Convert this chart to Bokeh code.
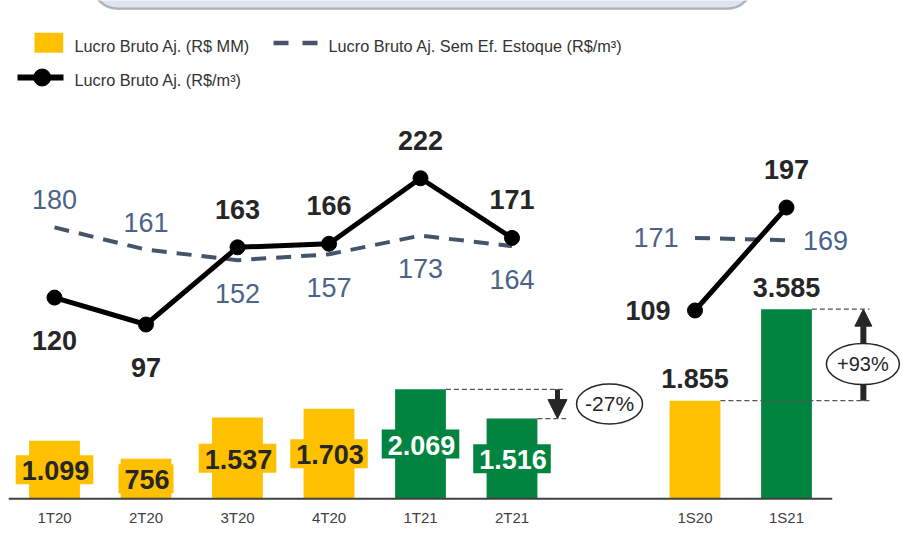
from bokeh.plotting import figure
from bokeh.models import Range1d, ColumnDataSource, Arrow, NormalHead, BoxAnnotation
from bokeh.core.properties import value
from bokeh.embed import file_html
from bokeh.resources import INLINE

# ---------------- data ----------------
quarters = ["1T20", "2T20", "3T20", "4T20", "1T21", "2T21"]
semesters = ["1S20", "1S21"]
lucro_mm_q = [1099, 756, 1537, 1703, 2069, 1516]        # Lucro Bruto Aj. (R$ MM)
lucro_mm_s = [1855, 3585]
lucro_m3_q = [120, 97, 163, 166, 222, 171]              # Lucro Bruto Aj. (R$/m3)
lucro_m3_s = [109, 197]
sem_est_q = [180, 161, 152, 157, 173, 164]              # Sem Ef. Estoque (R$/m3)
sem_est_s = [171, 169]
var_q_label = "-27%"
var_s_label = "+93%"
legend_labels = ["Lucro Bruto Aj. (R$ MM)",
                 "Lucro Bruto Aj. Sem Ef. Estoque (R$/m³)",
                 "Lucro Bruto Aj. (R$/m³)"]

# ---------------- style ----------------
YELLOW = "#FFC000"
GREEN = "#00843F"
DARK = "#262626"
SLATE = "#44546A"
SLATE_TXT = "#4A6388"
GREY_TXT = "#404040"
NUMF = "Liberation Sans"
SANS = "Liberation Sans"

W, H = 905, 535
X0, X1 = -0.5902, 9.3005
Y0, Y1 = -693.8, 9420
L0, L1 = -83.3, 373.9
BAR_W = 0.555

def sx(px):  # page px -> data x (layout helper for legend/box)
    return X0 + px / W * (X1 - X0)

def sy(py):  # page px -> data y (bar range)
    return Y1 - py / H * (Y1 - Y0)

fmt = lambda v: f"{v:,}".replace(",", ".")

xq = list(range(len(quarters)))
xs = [len(quarters) + 1 + i for i in range(len(semesters))]
bar_col_q = [YELLOW if c.endswith("20") else GREEN for c in quarters]
bar_col_s = [YELLOW if c.endswith("20") else GREEN for c in semesters]
txt_col_q = [DARK if c == YELLOW else "white" for c in bar_col_q]

p = figure(width=W, height=H, x_range=Range1d(X0, X1), y_range=Range1d(Y0, Y1),
           x_axis_type=None, y_axis_type=None, toolbar_location=None,
           output_backend="svg", min_border=0, outline_line_color=None,
           background_fill_color="white", border_fill_color="white")
p.extra_y_ranges = {"line": Range1d(L0, L1)}

# top rounded box (cut off by page top)
p.add_layout(BoxAnnotation(left=sx(92), right=sx(752), top=sy(-80), bottom=sy(8.3),
                           fill_color="#DCE4EF", fill_alpha=1.0, line_color="#2F2F2F",
                           line_width=2.5, border_radius=25, level="underlay"))

# ---------------- bars ----------------
src_q = ColumnDataSource(dict(x=xq, top=lucro_mm_q, mid=[v / 2 for v in lucro_mm_q],
                              color=bar_col_q, tcol=txt_col_q,
                              lab=[fmt(v) for v in lucro_mm_q], cat=quarters))
src_s = ColumnDataSource(dict(x=xs, top=lucro_mm_s, color=bar_col_s,
                              lab=[fmt(v) for v in lucro_mm_s], cat=semesters))
p.vbar(x="x", top="top", width=BAR_W, bottom=0, fill_color="color", line_color=None, source=src_q)
p.vbar(x="x", top="top", width=BAR_W, bottom=0, fill_color="color", line_color=None, source=src_s)

# baseline
p.segment(x0=[xq[0] - 0.5], y0=[0], x1=[xs[-1] + 0.5], y1=[0], line_color=GREY_TXT, line_width=2)

# bar labels (quarters: inside with boxed background; semesters: above)
p.text(x="x", y="mid", text="lab", source=src_q, text_font=value(NUMF),
       text_font_style="bold", text_font_size="27px", text_color="tcol",
       text_align="center", text_baseline="middle",
       background_fill_color="color", padding=(6, 4, 6, 4))
p.text(x="x", y="top", text="lab", source=src_s, text_font=value(NUMF),
       text_font_style="bold", text_font_size="27px", text_color=DARK,
       text_align="center", text_baseline="middle", y_offset=-22)

# x tick labels
for src in (src_q, src_s):
    p.text(x="x", y=0, text="cat", source=src, text_font=value(SANS),
           text_font_size="15px", text_color=GREY_TXT, text_align="center",
           text_baseline="middle", y_offset=18.7)

# ---------------- lines ----------------
OFF = {"above": (0, -38), "below": (0, 43), "left": (-47, 0)}
OFF_B = {"above": (0, -27.5), "below": (0, 33), "left": (-39, 0), "right": (39, 0)}
black_pos_q = ["below", "below", "above", "above", "above", "above"]
black_pos_s = ["left", "above"]
blue_pos_q = ["above", "above", "below", "below", "below", "below"]
blue_pos_s = ["left", "right"]

for xx, vals in ((xq, sem_est_q), (xs, sem_est_s)):
    p.line(xx, vals, y_range_name="line", line_color=SLATE, line_width=4, line_dash="15 10")
for xx, vals in ((xq, lucro_m3_q), (xs, lucro_m3_s)):
    p.line(xx, vals, y_range_name="line", line_color="black", line_width=5)
    p.scatter(xx, vals, y_range_name="line", size=15, fill_color="black", line_color="black")

for xx, vals, pos in ((xq, lucro_m3_q, black_pos_q), (xs, lucro_m3_s, black_pos_s)):
    p.text(x=xx, y=vals, text=[str(v) for v in vals], y_range_name="line",
           x_offset=[OFF[k][0] for k in pos], y_offset=[OFF[k][1] for k in pos],
           text_font=value(NUMF), text_font_style="bold", text_font_size="27px",
           text_color=DARK, text_align="center", text_baseline="middle")
for xx, vals, pos in ((xq, sem_est_q, blue_pos_q), (xs, sem_est_s, blue_pos_s)):
    p.text(x=xx, y=vals, text=[str(v) for v in vals], y_range_name="line",
           x_offset=[OFF_B[k][0] for k in pos], y_offset=[OFF_B[k][1] for k in pos],
           text_font=value(NUMF), text_font_size="27px",
           text_color=SLATE_TXT, text_align="center", text_baseline="middle")

# ---------------- variation annotations ----------------
# quarters: 1T21 -> 2T21
a_hi, a_lo = lucro_mm_q[-2], lucro_mm_q[-1]
ax = xq[-1] + 0.497
p.segment(x0=[xq[-2] + BAR_W / 2, xq[-1] + BAR_W / 2], y0=[a_hi, a_lo],
          x1=[xq[-1] + 0.59, xq[-1] + 0.59], y1=[a_hi, a_lo],
          line_color="#555555", line_width=1.2, line_dash="5 3")
p.add_layout(Arrow(end=NormalHead(size=19, fill_color=DARK, line_color=DARK),
                   x_start=ax, y_start=a_hi, x_end=ax, y_end=a_lo,
                   line_color=DARK, line_width=5, level="underlay"))
ex, ey = xq[-1] + 1.066, (a_hi + a_lo) / 2
p.ellipse(x=[ex], y=[ey], width=66, height=40, width_units="screen", height_units="screen",
          fill_color="white", line_color=DARK, line_width=1.5)
p.text(x=[ex], y=[ey], text=[var_q_label], text_font=value(SANS), text_font_size="21px",
       text_color=DARK, text_align="center", text_baseline="middle")

# semesters: 1S20 -> 1S21
b_lo, b_hi = lucro_mm_s[0], lucro_mm_s[1]
bx = xs[-1] + 0.84
p.segment(x0=[xs[-1] + BAR_W / 2, xs[0] + BAR_W / 2], y0=[b_hi, b_lo],
          x1=[xs[-1] + 0.907, xs[-1] + 0.907], y1=[b_hi, b_lo],
          line_color="#555555", line_width=1.2, line_dash="5 3")
p.add_layout(Arrow(end=NormalHead(size=17, fill_color=DARK, line_color=DARK),
                   x_start=bx, y_start=b_lo, x_end=bx, y_end=b_hi,
                   line_color=DARK, line_width=6, level="underlay"))
fx, fy = xs[-1] + 0.835, b_lo + 0.4 * (b_hi - b_lo)
p.ellipse(x=[fx], y=[fy], width=73, height=41, width_units="screen", height_units="screen",
          fill_color="white", line_color=DARK, line_width=1.5)
p.text(x=[fx], y=[fy], text=[var_s_label], text_font=value(SANS), text_font_size="20px",
       text_color=DARK, text_align="center", text_baseline="middle")

# ---------------- legend (drawn manually) ----------------
p.quad(left=[sx(34)], right=[sx(62.7)], top=[sy(32.3)], bottom=[sy(52.3)],
       fill_color=YELLOW, line_color=None)
p.line([sx(273), sx(317)], [sy(42.5), sy(42.5)], line_color=SLATE, line_width=4.3,
       line_dash="15 14")
p.line([sx(17), sx(63)], [sy(77), sy(77)], line_color="black", line_width=6)
p.scatter([sx(41.7)], [sy(77)], size=17, fill_color="black", line_color="black")
p.text(x=[sx(74), sx(328), sx(74)], y=[sy(45), sy(45), sy(79)], text=legend_labels,
       text_font=value(SANS), text_font_size="16.3px", text_color="#333333",
       text_align="left", text_baseline="middle")

open("out.html", "w").write(file_html(p, INLINE))
